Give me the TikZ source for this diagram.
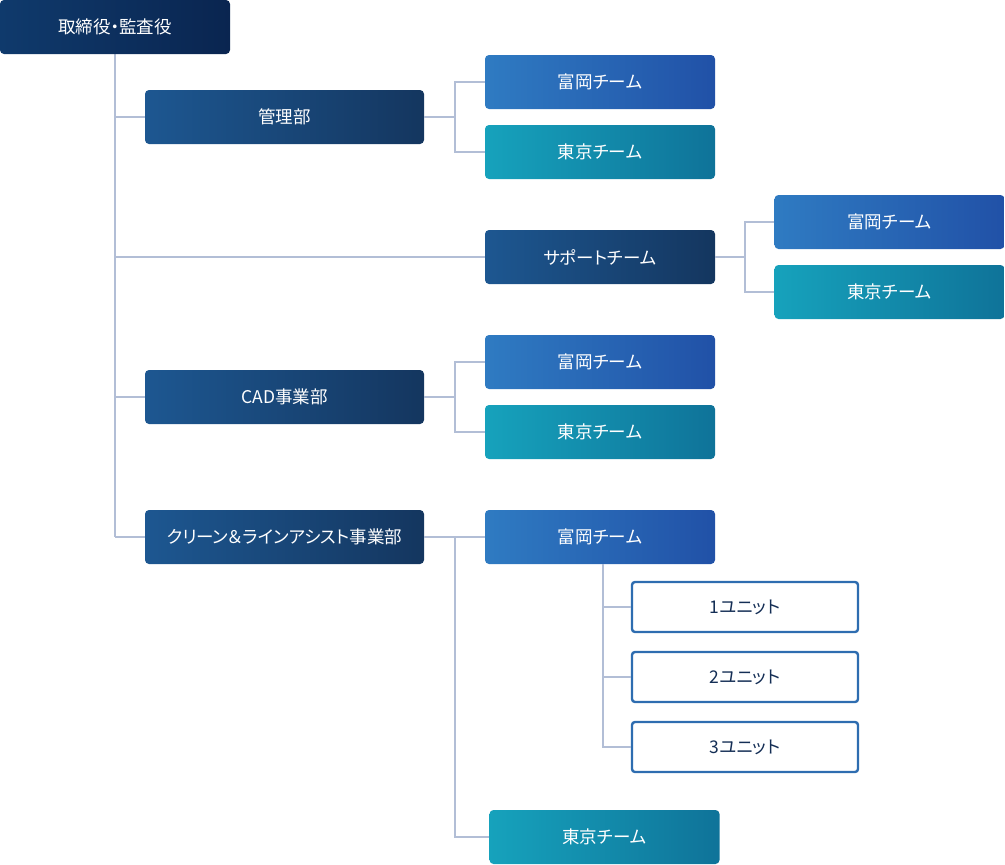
\documentclass[tikz,border=0pt]{standalone}
\usepackage{fontspec}
\setmainfont[RawFeature=+palt]{Noto Sans CJK JP}
\begin{document}
\begin{tikzpicture}[x=1pt,y=-1pt,
  base/.style={rounded corners=4pt, minimum height=54pt, inner sep=0pt, text=white, font=\fontsize{17.5}{19}\selectfont},
  navytop/.style={base, minimum width=230pt, left color=navyL, right color=navyR},
  dept/.style={base, minimum width=279pt, left color=deptL, right color=deptR},
  deptb/.style={base, minimum width=230pt, left color=deptL, right color=deptR},
  tomi/.style={base, minimum width=230pt, left color=tomiL, right color=tomiR},
  tokyo/.style={base, minimum width=230pt, left color=tokL, right color=tokR},
  unitbox/.style={rounded corners=3pt, minimum width=226pt, minimum height=50pt, inner sep=0pt, draw=unitB, line width=2.4pt, fill=white, text=unitT, font=\fontsize{17.5}{19}\selectfont},
  conn/.style={draw=lineC, line width=2.5pt}
]
\definecolor{navyL}{HTML}{0F3A6C}
\definecolor{navyR}{HTML}{0A2550}
\definecolor{deptL}{HTML}{1D5791}
\definecolor{deptR}{HTML}{14365F}
\definecolor{tomiL}{HTML}{2F7BC2}
\definecolor{tomiR}{HTML}{2151A7}
\definecolor{tokL}{HTML}{16A2BC}
\definecolor{tokR}{HTML}{0F7399}
\definecolor{unitB}{HTML}{2E6DB0}
\definecolor{unitT}{HTML}{142E55}
\definecolor{lineC}{HTML}{B2BED6}
\useasboundingbox (0,0) rectangle (1005,865);

\coordinate (m0) at (115,54);
\coordinate (m1) at (115,117);
\coordinate (m2) at (115,257);
\coordinate (m3) at (115,397);
\coordinate (m4) at (115,537);
\draw[conn] (m0) -- (m4);

\node[navytop] (top) at (115,27) {取締役・監査役};
\node[dept] (kanri) at (284.5,117) {管理部};
\node[tomi] (t1) at (600,82) {富岡チーム};
\node[tokyo] (k1) at (600,152) {東京チーム};
\node[deptb] (sup) at (600,257) {サポートチーム};
\node[tomi] (t2) at (889.5,222) {富岡チーム};
\node[tokyo] (k2) at (889.5,292) {東京チーム};
\node[dept] (cad) at (284.5,397) {CAD事業部};
\node[tomi] (t3) at (600,362) {富岡チーム};
\node[tokyo] (k3) at (600,432) {東京チーム};
\node[dept] (cl) at (284.5,537) {クリーン＆ラインアシスト事業部};
\node[tomi] (t4) at (600,537) {富岡チーム};
\node[unitbox] (u1) at (745,607) {1ユニット};
\node[unitbox] (u2) at (745,677) {2ユニット};
\node[unitbox] (u3) at (745,747) {3ユニット};
\node[tokyo] (k4) at (604.5,837) {東京チーム};

\draw[conn] (m1) -- (kanri.west);
\draw[conn] (m2) -- (sup.west);
\draw[conn] (m3) -- (cad.west);
\draw[conn] (m4) -- (cl.west);

\draw[conn] (kanri.east) -- (455,117);
\draw[conn] (t1.west) -| (455,117);
\draw[conn] (k1.west) -| (455,117);

\draw[conn] (sup.east) -- (745,257);
\draw[conn] (t2.west) -| (745,257);
\draw[conn] (k2.west) -| (745,257);

\draw[conn] (cad.east) -- (455,397);
\draw[conn] (t3.west) -| (455,397);
\draw[conn] (k3.west) -| (455,397);

\draw[conn] (cl.east) -- (t4.west);
\draw[conn] (k4.west) -| (455,537);

\coordinate (ut) at (603,564);
\draw[conn] (u1.west) -| (ut);
\draw[conn] (u2.west) -| (ut);
\draw[conn] (u3.west) -| (ut);
\end{tikzpicture}
\end{document}
